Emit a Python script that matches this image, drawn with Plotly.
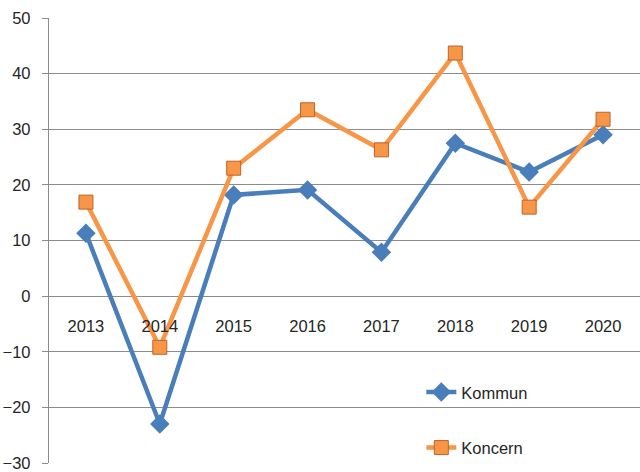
import plotly.graph_objects as go

years = ["2013", "2014", "2015", "2016", "2017", "2018", "2019", "2020"]
kommun = [11.3, -23.0, 18.2, 19.1, 7.9, 27.5, 22.3, 29.0]
koncern = [16.9, -9.2, 23.0, 33.5, 26.3, 43.7, 16.0, 31.8]

BLUE = "#4A7EBB"
ORANGE = "#F79646"
GRID = "#8C8C8C"
FONT = "Liberation Sans, Arial, sans-serif"

fig = go.Figure()
fig.add_trace(go.Scatter(
    x=years, y=kommun, name="Kommun", mode="lines+markers",
    legendgroup="a",
    line=dict(color=BLUE, width=4.5),
    marker=dict(symbol="diamond", size=15, color=BLUE),
))
fig.add_trace(go.Scatter(
    x=years, y=koncern, name="Koncern", mode="lines+markers",
    legendgroup="b",
    line=dict(color=ORANGE, width=4.5),
    marker=dict(symbol="square", size=14, color=ORANGE,
                line=dict(color="#C0622A", width=1)),
))

fig.update_layout(
    width=640, height=472,
    paper_bgcolor="white", plot_bgcolor="white",
    margin=dict(l=49, r=0, t=18, b=9),
    font=dict(family=FONT, size=16.5, color="#262626"),
    showlegend=True,
    legend=dict(
        x=0.63, y=0.198, xanchor="left", yanchor="top",
        traceorder="grouped", tracegroupgap=31,
        font=dict(family=FONT, size=16.5, color="#262626"),
        bgcolor="rgba(0,0,0,0)",
    ),
)
fig.update_xaxes(
    anchor="free", position=0.375,
    showline=False, showgrid=False, ticks="",
    ticklabelstandoff=18,
    range=[-0.5, 7.5],
)
fig.update_yaxes(
    range=[-30, 50], dtick=10,
    showgrid=True, gridcolor=GRID, gridwidth=1.3,
    zeroline=False,
    showline=True, linecolor=GRID, linewidth=1.3,
    ticks="outside", ticklen=6, tickcolor=GRID,
    ticklabelstandoff=8,
)

# drop the default page margin so the chart sits at the window origin
fig.write_html(
    "out.html",
    config={"displayModeBar": False},
    post_script="document.body.style.margin='0';",
)
